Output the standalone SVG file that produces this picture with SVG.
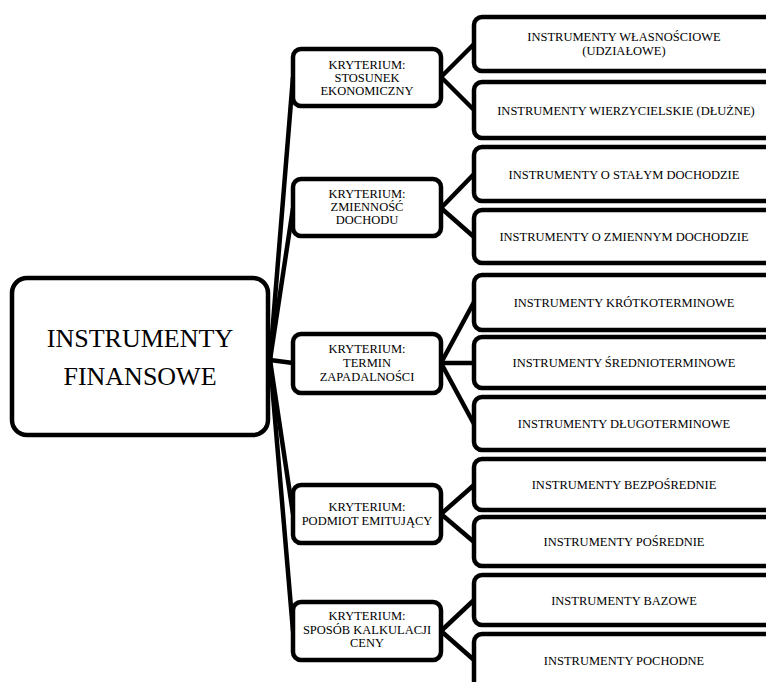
<svg xmlns="http://www.w3.org/2000/svg" width="766" height="682" viewBox="0 0 766 682">
<style>
.box{fill:#fff;stroke:#000;stroke-width:4.5}
.ln{stroke:#000;stroke-width:4.5;fill:none}
.t{font-size:12.5px}
.big{font-size:26px}
</style>
<rect width="766" height="682" fill="#fff"/>
<g id="connectors">
<line class="ln" x1="270" y1="360" x2="293" y2="77"/>
<line class="ln" x1="270" y1="360" x2="293" y2="208"/>
<line class="ln" x1="270" y1="360" x2="293" y2="363"/>
<line class="ln" x1="270" y1="360" x2="293" y2="514"/>
<line class="ln" x1="270" y1="360" x2="293" y2="631"/>
<line class="ln" x1="441" y1="77" x2="474" y2="44"/>
<line class="ln" x1="441" y1="77" x2="474" y2="110"/>
<line class="ln" x1="441" y1="208" x2="474" y2="174"/>
<line class="ln" x1="441" y1="208" x2="474" y2="237"/>
<line class="ln" x1="441" y1="363" x2="474" y2="302"/>
<line class="ln" x1="441" y1="363" x2="474" y2="363"/>
<line class="ln" x1="441" y1="363" x2="474" y2="424"/>
<line class="ln" x1="441" y1="514" x2="474" y2="485"/>
<line class="ln" x1="441" y1="514" x2="474" y2="542"/>
<line class="ln" x1="441" y1="631" x2="474" y2="600"/>
<line class="ln" x1="441" y1="631" x2="474" y2="660"/>
</g>
<g font-family="Liberation Serif, Times New Roman, serif" fill="#000" text-anchor="middle">
<g id="root">
<rect class="box" x="12" y="278" width="256" height="157" rx="15"/>
<text class="big" x="140" y="347">INSTRUMENTY</text>
<text class="big" x="140" y="385">FINANSOWE</text>
</g>
<g id="k1">
<rect class="box" x="293" y="49" width="148" height="57" rx="8"/>
<text class="t" x="367" y="69">KRYTERIUM:</text>
<text class="t" x="367" y="82">STOSUNEK</text>
<text class="t" x="367" y="95">EKONOMICZNY</text>
</g>
<g id="k2">
<rect class="box" x="293" y="179" width="148" height="57" rx="8"/>
<text class="t" x="367" y="198">KRYTERIUM:</text>
<text class="t" x="367" y="211">ZMIENNOŚĆ</text>
<text class="t" x="367" y="224">DOCHODU</text>
</g>
<g id="k3">
<rect class="box" x="293" y="334" width="148" height="59" rx="8"/>
<text class="t" x="367" y="353">KRYTERIUM:</text>
<text class="t" x="367" y="367">TERMIN</text>
<text class="t" x="367" y="381">ZAPADALNOŚCI</text>
</g>
<g id="k4">
<rect class="box" x="293" y="485" width="148" height="58" rx="8"/>
<text class="t" x="367" y="511">KRYTERIUM:</text>
<text class="t" x="367" y="525">PODMIOT EMITUJĄCY</text>
</g>
<g id="k5">
<rect class="box" x="293" y="602" width="148" height="58" rx="8"/>
<text class="t" x="367" y="620">KRYTERIUM:</text>
<text class="t" x="367" y="634">SPOSÓB KALKULACJI</text>
<text class="t" x="367" y="647">CENY</text>
</g>
<g id="r1">
<rect class="box" x="474" y="17" width="320" height="54" rx="8"/>
<text class="t" x="624" y="41">INSTRUMENTY WŁASNOŚCIOWE</text>
<text class="t" x="624" y="55">(UDZIAŁOWE)</text>
</g>
<g id="r2">
<rect class="box" x="474" y="82" width="320" height="56" rx="8"/>
<text class="t" x="626" y="114.5">INSTRUMENTY WIERZYCIELSKIE (DŁUŻNE)</text>
</g>
<g id="r3">
<rect class="box" x="474" y="147" width="320" height="54" rx="8"/>
<text class="t" x="624" y="178.5">INSTRUMENTY O STAŁYM DOCHODZIE</text>
</g>
<g id="r4">
<rect class="box" x="474" y="210" width="320" height="53" rx="8"/>
<text class="t" x="624" y="241">INSTRUMENTY O ZMIENNYM DOCHODZIE</text>
</g>
<g id="r5">
<rect class="box" x="474" y="275" width="320" height="55" rx="8"/>
<text class="t" x="624" y="307">INSTRUMENTY KRÓTKOTERMINOWE</text>
</g>
<g id="r6">
<rect class="box" x="474" y="337" width="320" height="51" rx="8"/>
<text class="t" x="624" y="367">INSTRUMENTY ŚREDNIOTERMINOWE</text>
</g>
<g id="r7">
<rect class="box" x="474" y="397" width="320" height="53" rx="8"/>
<text class="t" x="624" y="428">INSTRUMENTY DŁUGOTERMINOWE</text>
</g>
<g id="r8">
<rect class="box" x="474" y="459" width="320" height="51" rx="8"/>
<text class="t" x="624" y="489">INSTRUMENTY BEZPOŚREDNIE</text>
</g>
<g id="r9">
<rect class="box" x="474" y="517" width="320" height="49" rx="8"/>
<text class="t" x="624" y="546">INSTRUMENTY POŚREDNIE</text>
</g>
<g id="r10">
<rect class="box" x="474" y="575" width="320" height="50" rx="8"/>
<text class="t" x="624" y="604.5">INSTRUMENTY BAZOWE</text>
</g>
<g id="r11">
<rect class="box" x="474" y="634" width="320" height="60" rx="8"/>
<text class="t" x="624" y="664.5">INSTRUMENTY POCHODNE</text>
</g>
</g>
</svg>
